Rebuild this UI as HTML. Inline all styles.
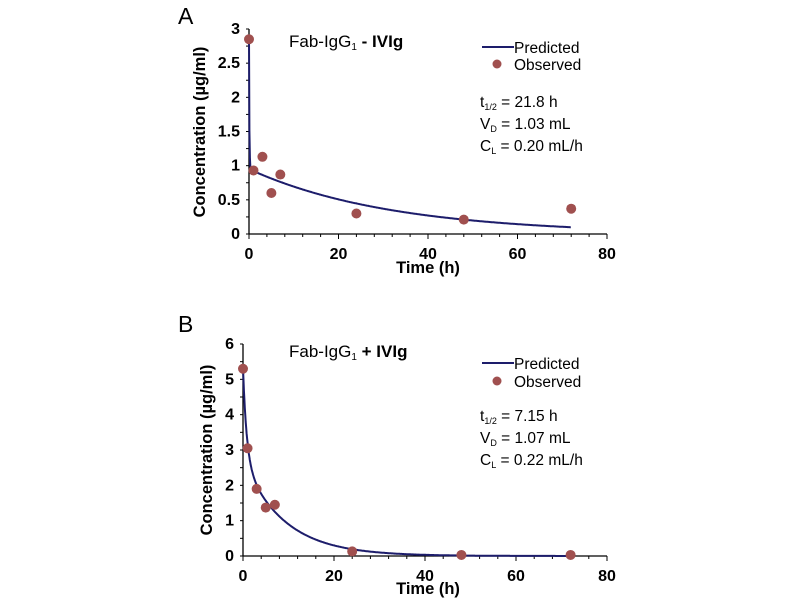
<!DOCTYPE html><html><head><style>body{margin:0;background:#fff}svg text{font-family:"Liberation Sans",Arial,sans-serif}</style></head><body>
<svg id="s" width="800" height="600" xmlns="http://www.w3.org/2000/svg">
<text x="178" y="24" font-size="23">A</text>
<text x="178" y="332" font-size="23">B</text>
<g id="g"></g>
<text x="289" y="47" font-size="17">Fab-IgG<tspan font-size="10" dy="3">1</tspan><tspan dy="-3" font-weight="bold"> - IVIg</tspan></text>
<text x="289" y="357" font-size="17">Fab-IgG<tspan font-size="10" dy="3">1</tspan><tspan dy="-3" font-weight="bold"> + IVIg</tspan></text>
<g font-size="15.5">
<line x1="482" y1="47" x2="514" y2="47" stroke="#1d1d6b" stroke-width="2"/><text x="514" y="53">Predicted</text>
<circle cx="497" cy="64" r="4.5" fill="#a0504f"/><text x="514" y="70">Observed</text>
<text x="480" y="107">t<tspan font-size="9" dy="3">1/2</tspan><tspan dy="-3"> = 21.8 h</tspan></text>
<text x="480" y="129">V<tspan font-size="9" dy="3">D</tspan><tspan dy="-3"> = 1.03 mL</tspan></text>
<text x="480" y="151">C<tspan font-size="9" dy="3">L</tspan><tspan dy="-3"> = 0.20 mL/h</tspan></text>
<line x1="482" y1="363" x2="514" y2="363" stroke="#1d1d6b" stroke-width="2"/><text x="514" y="369">Predicted</text>
<circle cx="497" cy="381" r="4.5" fill="#a0504f"/><text x="514" y="387">Observed</text>
<text x="480" y="421">t<tspan font-size="9" dy="3">1/2</tspan><tspan dy="-3"> = 7.15 h</tspan></text>
<text x="480" y="443">V<tspan font-size="9" dy="3">D</tspan><tspan dy="-3"> = 1.07 mL</tspan></text>
<text x="480" y="465">C<tspan font-size="9" dy="3">L</tspan><tspan dy="-3"> = 0.22 mL/h</tspan></text>
</g>
<text transform="translate(205,132) rotate(-90)" text-anchor="middle" font-size="16.5" font-weight="bold">Concentration (µg/ml)</text>
<text transform="translate(212,450) rotate(-90)" text-anchor="middle" font-size="16.5" font-weight="bold">Concentration (µg/ml)</text>
<text x="428" y="273" text-anchor="middle" font-size="16.5" font-weight="bold">Time (h)</text>
<text x="428" y="594" text-anchor="middle" font-size="16.5" font-weight="bold">Time (h)</text>
</svg>
<script>
var g=document.getElementById('g'),h='';
function ax(x0,x1,y0,ytop,ymax,ystep,fA,pts,lab){
 var sx=(x1-x0)/80,sy=(y0-ytop)/ymax;
 h+='<line x1="'+x0+'" y1="'+ytop+'" x2="'+x0+'" y2="'+y0+'" stroke="#000" stroke-width="1.3"/>';
 h+='<line x1="'+x0+'" y1="'+y0+'" x2="'+x1+'" y2="'+y0+'" stroke="#000" stroke-width="1.3"/>';
 for(var t=0;t<=80;t+=4){var x=x0+t*sx,L=t%20?3:5;h+='<line x1="'+x+'" y1="'+y0+'" x2="'+x+'" y2="'+(y0+L)+'" stroke="#000"/>';}
 for(var t=0;t<=80;t+=20)h+='<text x="'+(x0+t*sx)+'" y="'+(y0+25)+'" text-anchor="middle" font-size="16" font-weight="bold">'+t+'</text>';
 for(var v=0;v<=ymax+1e-9;v+=ystep/2){var y=y0-v*sy;h+='<line x1="'+(x0-3)+'" y1="'+y+'" x2="'+x0+'" y2="'+y+'" stroke="#000"/>';}
 for(var v=0;v<=ymax+1e-9;v+=ystep){var y=y0-v*sy;h+='<text x="'+(x0-9)+'" y="'+(y+5)+'" text-anchor="end" font-size="16" font-weight="bold">'+lab(v)+'</text>';}
 var d='';for(var t=0;t<=72;t+=0.1){d+=(t?'L':'M')+(x0+t*sx).toFixed(1)+','+(y0-fA(t)*sy).toFixed(1);}
 h+='<path d="'+d+'" fill="none" stroke="#1d1d6b" stroke-width="2"/>';
 pts.forEach(function(p){h+='<circle cx="'+(x0+p[0]*sx)+'" cy="'+(y0-p[1]*sy)+'" r="5" fill="#a0504f"/>';});
}
ax(249,607,234,29,3,0.5,function(t){return 0.95*Math.exp(-0.0314*t)+1.9*Math.exp(-12*t);},
 [[0,2.85],[1,0.93],[3,1.13],[5,0.6],[7,0.87],[24,0.3],[48,0.21],[72,0.37]],function(v){return String(v);});
ax(243,607,556,344,6,1,function(t){return 2.6*Math.exp(-1.2*t)+2.7*Math.exp(-0.11*t);},
 [[0,5.3],[1,3.05],[3,1.9],[5,1.37],[7,1.45],[24,0.13],[48,0.03],[72,0.03]],function(v){return String(v);});
g.innerHTML=h;
</script>
</body></html>
